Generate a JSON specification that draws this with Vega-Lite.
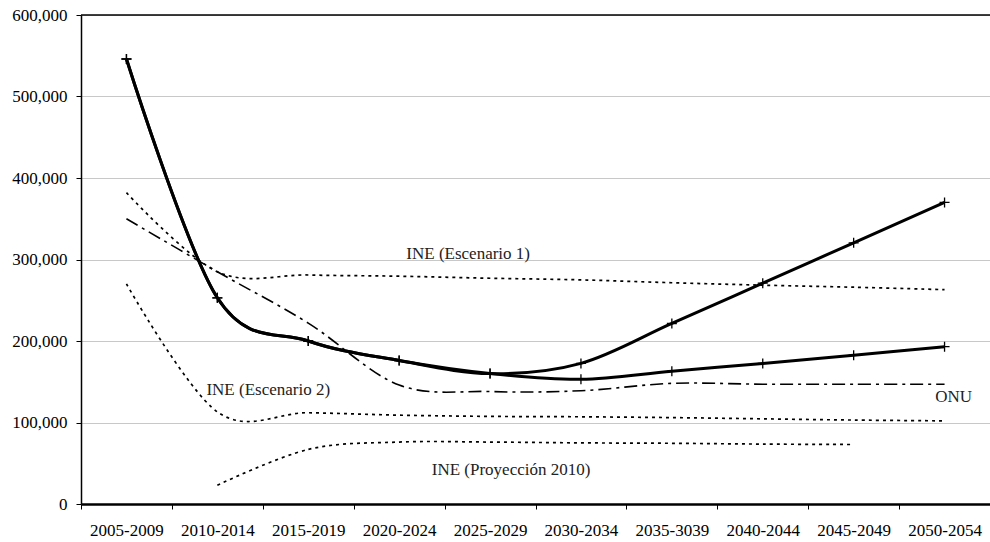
{
  "$schema": "https://vega.github.io/schema/vega-lite/v6.json",
  "width": 909,
  "height": 489,
  "autosize": {"type": "none"},
  "padding": {"left": 81, "top": 15, "right": 0, "bottom": 38},
  "background": "white",
  "config": {"view": {"stroke": null}, "font": "Liberation Serif"},
  "datasets": {
    "series": [
      {"serie": "Alta", "periodo": "2005-2009", "valor": 546000},
      {"serie": "Alta", "periodo": "2010-2014", "valor": 253000},
      {"serie": "Alta", "periodo": "2015-2019", "valor": 200000},
      {"serie": "Alta", "periodo": "2020-2024", "valor": 176000},
      {"serie": "Alta", "periodo": "2025-2029", "valor": 160000},
      {"serie": "Alta", "periodo": "2030-2034", "valor": 172500},
      {"serie": "Alta", "periodo": "2035-3039", "valor": 221500},
      {"serie": "Alta", "periodo": "2040-2044", "valor": 271000},
      {"serie": "Alta", "periodo": "2045-2049", "valor": 320500},
      {"serie": "Alta", "periodo": "2050-2054", "valor": 370000},
      {"serie": "Baja", "periodo": "2005-2009", "valor": 546000},
      {"serie": "Baja", "periodo": "2010-2014", "valor": 253000},
      {"serie": "Baja", "periodo": "2015-2019", "valor": 200000},
      {"serie": "Baja", "periodo": "2020-2024", "valor": 176000},
      {"serie": "Baja", "periodo": "2025-2029", "valor": 160000},
      {"serie": "Baja", "periodo": "2030-2034", "valor": 153000},
      {"serie": "Baja", "periodo": "2035-3039", "valor": 163000},
      {"serie": "Baja", "periodo": "2040-2044", "valor": 172500},
      {"serie": "Baja", "periodo": "2045-2049", "valor": 182500},
      {"serie": "Baja", "periodo": "2050-2054", "valor": 193000},
      {"serie": "INE (Escenario 1)", "periodo": "2005-2009", "valor": 382000},
      {"serie": "INE (Escenario 1)", "periodo": "2010-2014", "valor": 285000},
      {"serie": "INE (Escenario 1)", "periodo": "2015-2019", "valor": 281000},
      {"serie": "INE (Escenario 1)", "periodo": "2020-2024", "valor": 279500},
      {"serie": "INE (Escenario 1)", "periodo": "2025-2029", "valor": 277000},
      {"serie": "INE (Escenario 1)", "periodo": "2030-2034", "valor": 275000},
      {"serie": "INE (Escenario 1)", "periodo": "2035-3039", "valor": 271500},
      {"serie": "INE (Escenario 1)", "periodo": "2040-2044", "valor": 268500},
      {"serie": "INE (Escenario 1)", "periodo": "2045-2049", "valor": 266000},
      {"serie": "INE (Escenario 1)", "periodo": "2050-2054", "valor": 263000},
      {"serie": "INE (Escenario 2)", "periodo": "2005-2009", "valor": 270000},
      {"serie": "INE (Escenario 2)", "periodo": "2010-2014", "valor": 113000},
      {"serie": "INE (Escenario 2)", "periodo": "2015-2019", "valor": 112000},
      {"serie": "INE (Escenario 2)", "periodo": "2020-2024", "valor": 109000},
      {"serie": "INE (Escenario 2)", "periodo": "2025-2029", "valor": 107500},
      {"serie": "INE (Escenario 2)", "periodo": "2030-2034", "valor": 107000},
      {"serie": "INE (Escenario 2)", "periodo": "2035-3039", "valor": 106000},
      {"serie": "INE (Escenario 2)", "periodo": "2040-2044", "valor": 104500},
      {"serie": "INE (Escenario 2)", "periodo": "2045-2049", "valor": 103000},
      {"serie": "INE (Escenario 2)", "periodo": "2050-2054", "valor": 102000},
      {"serie": "INE (Proyección 2010)", "periodo": "2010-2014", "valor": 23000},
      {"serie": "INE (Proyección 2010)", "periodo": "2015-2019", "valor": 67000},
      {"serie": "INE (Proyección 2010)", "periodo": "2020-2024", "valor": 76000},
      {"serie": "INE (Proyección 2010)", "periodo": "2025-2029", "valor": 76000},
      {"serie": "INE (Proyección 2010)", "periodo": "2030-2034", "valor": 75000},
      {"serie": "INE (Proyección 2010)", "periodo": "2035-3039", "valor": 74500},
      {"serie": "INE (Proyección 2010)", "periodo": "2040-2044", "valor": 73500},
      {"serie": "INE (Proyección 2010)", "periodo": "2045-2049", "valor": 73000},
      {"serie": "ONU", "periodo": "2005-2009", "valor": 350000},
      {"serie": "ONU", "periodo": "2010-2014", "valor": 285000},
      {"serie": "ONU", "periodo": "2015-2019", "valor": 222000},
      {"serie": "ONU", "periodo": "2020-2024", "valor": 146000},
      {"serie": "ONU", "periodo": "2025-2029", "valor": 138000},
      {"serie": "ONU", "periodo": "2030-2034", "valor": 139000},
      {"serie": "ONU", "periodo": "2035-3039", "valor": 148000},
      {"serie": "ONU", "periodo": "2040-2044", "valor": 147000},
      {"serie": "ONU", "periodo": "2045-2049", "valor": 147000},
      {"serie": "ONU", "periodo": "2050-2054", "valor": 147000}
    ],
    "etiquetas": [
      {"texto": "INE (Escenario 1)", "periodo": "2020-2024", "valor": 306500},
      {"texto": "INE (Escenario 2)", "periodo": "2015-2019", "valor": 140000},
      {"texto": "ONU", "periodo": "2050-2054", "valor": 131500},
      {"texto": "INE (Proyección 2010)", "periodo": "2025-2029", "valor": 42000}
    ]
  },
  "encoding": {
    "x": {
      "field": "periodo",
      "type": "ordinal",
      "scale": {
        "type": "band",
        "domain": ["2005-2009", "2010-2014", "2015-2019", "2020-2024", "2025-2029", "2030-2034", "2035-3039", "2040-2044", "2045-2049", "2050-2054"],
        "paddingInner": 0,
        "paddingOuter": 0
      },
      "axis": {
        "title": null,
        "tickBand": "extent",
        "labelAngle": 0,
        "labelFont": "Liberation Serif",
        "labelFontSize": 17,
        "labelColor": "black",
        "labelPadding": 13,
        "domainColor": "black",
        "domainWidth": 2.5,
        "tickColor": "black",
        "tickSize": 5,
        "tickWidth": 1,
        "grid": false
      }
    },
    "y": {
      "field": "valor",
      "type": "quantitative",
      "scale": {"domain": [0, 600000], "nice": false},
      "axis": {
        "title": null,
        "values": [0, 100000, 200000, 300000, 400000, 500000, 600000],
        "format": ",d",
        "labelFont": "Liberation Serif",
        "labelFontSize": 17,
        "labelColor": "black",
        "labelPadding": 9,
        "domainColor": "black",
        "domainWidth": 1.5,
        "tickColor": "black",
        "tickSize": 5,
        "tickWidth": 1,
        "grid": true,
        "gridColor": "#c8c8c8",
        "gridWidth": 1
      }
    }
  },
  "layer": [
    {
      "data": {"values": [{"valor": 600000}]},
      "mark": {"type": "rule", "color": "black", "strokeWidth": 1.5},
      "encoding": {"x": null, "y": {"field": "valor", "type": "quantitative"}}
    },
    {
      "data": {"name": "series"},
      "transform": [{"filter": "datum.serie === 'INE (Escenario 1)' || datum.serie === 'INE (Escenario 2)' || datum.serie === 'INE (Proyección 2010)'"}],
      "mark": {"type": "line", "interpolate": "cardinal", "color": "black", "strokeWidth": 1.7, "strokeDash": [3, 4]},
      "encoding": {"detail": {"field": "serie"}}
    },
    {
      "data": {"name": "series"},
      "transform": [{"filter": "datum.serie === 'ONU'"}],
      "mark": {"type": "line", "interpolate": "cardinal", "color": "black", "strokeWidth": 1.6, "strokeDash": [13, 5, 3, 5]},
      "encoding": {"detail": {"field": "serie"}}
    },
    {
      "data": {"name": "series"},
      "transform": [{"filter": "datum.serie === 'Alta' || datum.serie === 'Baja'"}],
      "mark": {"type": "line", "interpolate": "cardinal", "color": "black", "strokeWidth": 3},
      "encoding": {"detail": {"field": "serie"}}
    },
    {
      "data": {"name": "series"},
      "transform": [{"filter": "datum.serie === 'Alta' || datum.serie === 'Baja'"}],
      "mark": {"type": "point", "shape": "M-1,0H1M0,-1V1", "filled": false, "stroke": "black", "strokeWidth": 1.3, "size": 100, "opacity": 1}
    },
    {
      "data": {"name": "etiquetas"},
      "transform": [{"filter": "datum.texto === 'INE (Escenario 1)'"}],
      "mark": {"type": "text", "font": "Liberation Serif", "fontSize": 17, "color": "#222", "align": "center", "baseline": "middle", "dx": 69},
      "encoding": {"text": {"field": "texto"}}
    },
    {
      "data": {"name": "etiquetas"},
      "transform": [{"filter": "datum.texto === 'INE (Escenario 2)'"}],
      "mark": {"type": "text", "font": "Liberation Serif", "fontSize": 17, "color": "#222", "align": "center", "baseline": "middle", "dx": -40},
      "encoding": {"text": {"field": "texto"}}
    },
    {
      "data": {"name": "etiquetas"},
      "transform": [{"filter": "datum.texto === 'ONU'"}],
      "mark": {"type": "text", "font": "Liberation Serif", "fontSize": 17, "color": "#222", "align": "center", "baseline": "middle", "dx": 9},
      "encoding": {"text": {"field": "texto"}}
    },
    {
      "data": {"name": "etiquetas"},
      "transform": [{"filter": "datum.texto === 'INE (Proyección 2010)'"}],
      "mark": {"type": "text", "font": "Liberation Serif", "fontSize": 17, "color": "#222", "align": "center", "baseline": "middle", "dx": 21},
      "encoding": {"text": {"field": "texto"}}
    }
  ]
}
